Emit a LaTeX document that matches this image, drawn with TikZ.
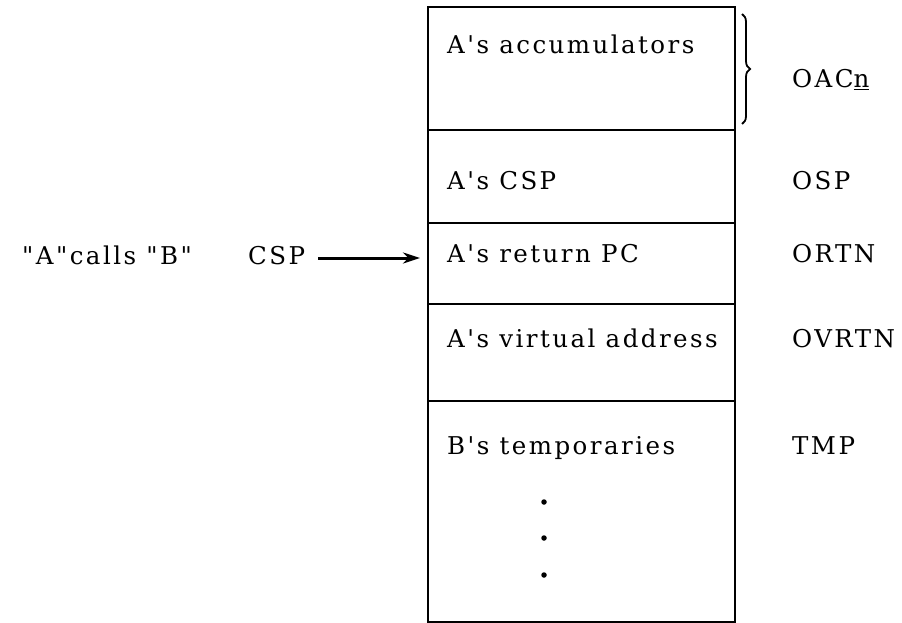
\documentclass[tikz,border=0pt]{standalone}
\usepackage{fontspec}
\newfontfamily\tw[LetterSpace=10]{DejaVu Serif}
\usetikzlibrary{arrows.meta,decorations.pathreplacing}
\begin{document}
\begin{tikzpicture}[x=1pt,y=-1pt,
  cell/.style={draw,line width=1.6pt,minimum width=307pt,inner sep=0pt,anchor=north west},
  lbl/.style={font=\tw\fontsize{24.5}{27}\selectfont,anchor=base west,inner sep=0pt},
  dot/.style={circle,fill,inner sep=0pt,minimum size=5.5pt}]
\useasboundingbox (0,0) rectangle (902,623);
\node[cell,minimum height=123pt] (r1) at (427,6) {};
\node[cell,minimum height=93pt]  (r2) at (427,129) {};
\node[cell,minimum height=81pt]  (r3) at (427,222) {};
\node[cell,minimum height=97pt]  (r4) at (427,303) {};
\node[cell,minimum height=221pt] (r5) at (427,400) {};
\node[lbl] (t1) at (447,54) {A's accumulators};
\node[lbl] (t2) at (447,189) {A's CSP};
\node[lbl] (t3) at (447,262) {A's return PC};
\node[lbl] (t4) at (447,347) {A's virtual address};
\node[lbl] (t5) at (447,454) {B's temporaries};
\node[dot] (d1) at (544,502) {};
\node[dot] (d2) at (544,538) {};
\node[dot] (d3) at (544,575) {};
\node[lbl] (n1) at (792,88) {OAC\underline{n}};
\node[lbl] (n2) at (792,189) {OSP};
\node[lbl] (n3) at (792,262) {ORTN};
\node[lbl] (n4) at (792,347) {OVRTN};
\node[lbl] (n5) at (792,454) {TMP};
\node[lbl] (call) at (22,264) {"A"calls "B"};
\node[lbl] (csp) at (248,264) {CSP};
\coordinate (b1) at (742,14);
\coordinate (b2) at (742,124);
\draw[line width=1.8pt,decorate,decoration={brace,amplitude=8pt}] (b1) -- (b2);
\draw[line width=3pt,-{Stealth[length=17pt,width=11pt]},shorten >=7pt] ([xshift=13pt]csp.east |- 0,258) -- (r3.west |- 0,258);
\end{tikzpicture}
\end{document}
